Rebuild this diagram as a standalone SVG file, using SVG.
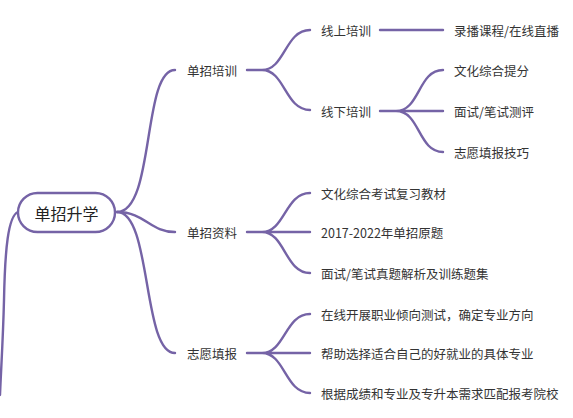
<svg xmlns="http://www.w3.org/2000/svg" width="573" height="418" viewBox="0 0 573 418">
<style>
.l{fill:none;stroke:#7563a6;stroke-width:2.4;stroke-linecap:round}
.t{font-family:"Noto Sans CJK SC","Noto Sans",sans-serif;font-size:12.5px;fill:#333;dominant-baseline:central}
.r{font-family:"Noto Sans CJK SC","Noto Sans",sans-serif;font-size:16px;fill:#222;dominant-baseline:central;text-anchor:middle}
</style>
<rect width="573" height="418" fill="#fff"/>
<g id="connectors">
<path class="l" d="M18,212 C8,216 5,250 4,300 C3,340 1,370 0,395"/>
<path class="l" d="M117,212 C155,212 142,70 175,70"/>
<path class="l" d="M117,212 C145,212 150,232 175,232"/>
<path class="l" d="M117,212 C152,212 142,353 175,353"/>
<path class="l" d="M247,70 L262,70 C285,70 285,30 310,30 M262,70 C285,70 285,110 310,110"/>
<path class="l" d="M380,30 L443,30"/>
<path class="l" d="M380,111 L396,111 C420,111 418,70 443,70 M396,111 L443,111 M396,111 C420,111 418,152 443,152"/>
<path class="l" d="M247,232 L262,232 C285,232 285,193 310,193 M262,232 L310,232 M262,232 C285,232 285,273 310,273"/>
<path class="l" d="M247,353 L262,353 C285,353 285,314 310,314 M262,353 L310,353 M262,353 C285,353 285,393 310,393"/>
</g>
<g id="root">
<rect x="18" y="193" width="97" height="39" rx="19.5" fill="#fff" stroke="#7563a6" stroke-width="2.4"/>
<text class="r" x="66.5" y="212.5">单招升学</text>
</g>
<g id="n1"><text class="t" x="187" y="70">单招培训</text></g>
<g id="n2"><text class="t" x="187" y="232">单招资料</text></g>
<g id="n3"><text class="t" x="187" y="353">志愿填报</text></g>
<g id="n11"><text class="t" x="321" y="30">线上培训</text></g>
<g id="n12"><text class="t" x="321" y="111">线下培训</text></g>
<g id="n111"><text class="t" x="454" y="30">录播课程/在线直播</text></g>
<g id="n121"><text class="t" x="454" y="70">文化综合提分</text></g>
<g id="n122"><text class="t" x="454" y="111">面试/笔试测评</text></g>
<g id="n123"><text class="t" x="454" y="152">志愿填报技巧</text></g>
<g id="n21"><text class="t" x="321" y="193">文化综合考试复习教材</text></g>
<g id="n22"><text class="t" x="321" y="232">2017-2022年单招原题</text></g>
<g id="n23"><text class="t" x="321" y="273">面试/笔试真题解析及训练题集</text></g>
<g id="n31"><text class="t" x="321" y="314">在线开展职业倾向测试，确定专业方向</text></g>
<g id="n32"><text class="t" x="321" y="353">帮助选择适合自己的好就业的具体专业</text></g>
<g id="n33"><text class="t" x="321" y="393">根据成绩和专业及专升本需求匹配报考院校</text></g>
</svg>
